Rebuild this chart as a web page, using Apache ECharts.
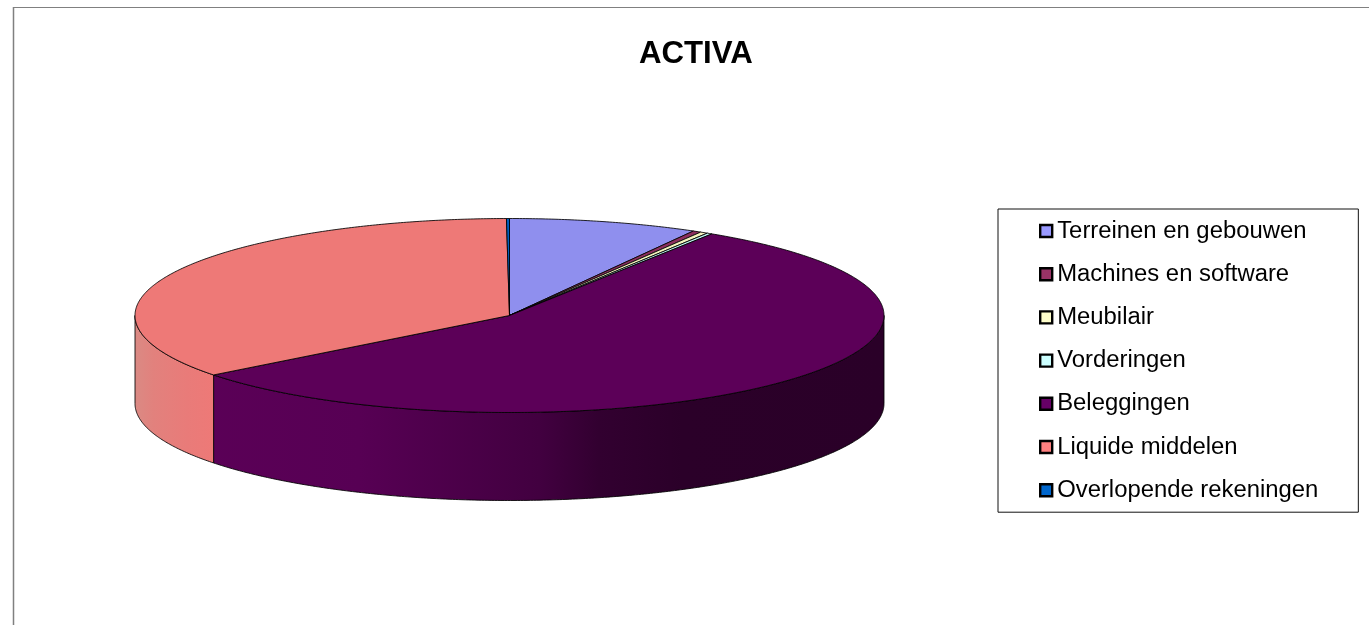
<!DOCTYPE html>
<html><head><meta charset="utf-8">
<style>html,body{margin:0;padding:0;background:#fff}#c{width:1369px;height:625px}</style>
<script src="https://cdn.jsdelivr.net/npm/echarts@6/dist/echarts.min.js"></script>
</head><body><div id="c"></div>
<script>
const categories = ['Terreinen en gebouwen','Machines en software','Meubilair','Vorderingen','Beleggingen','Liquide middelen','Overlopende rekeningen'];
const values = [8.17,0.36,0.33,0.23,55.41,35.37,0.13];
const legendColors = ['#9999ff','#993366','#ffffcc','#ccffff','#660066','#ff8080','#0066cc'];
const topColors = ['#8f8fee','#8c2f5e','#f4f4be','#bdf0f0','#5c0058','#ee7977','#0060c0'];
const wallStops = [
  [[0,'#8f8fee'],[1,'#8f8fee']],
  [[0,'#8c2f5e'],[1,'#8c2f5e']],
  [[0,'#f4f4be'],[1,'#f4f4be']],
  [[0,'#bdf0f0'],[1,'#bdf0f0']],
  [[0,'#5c0058'],[0.3,'#570054'],[0.54,'#420040'],[0.62,'#320030'],[0.73,'#2b0029'],[1,'#2a0028']],
  [[0,'#da8a84'],[0.025,'#e2817d'],[0.07,'#e97b79'],[0.105,'#ee7977'],[1,'#ee7977']],
  [[0,'#0060c0'],[1,'#0060c0']]
];
const CX = 509.5, CY = 315.5, RX = 374.5, RY = 97, DEPTH = 88;
const total = values.reduce((a,b)=>a+b,0);
const pt = (deg,dy=0)=>{const r=deg*Math.PI/180;return [CX+RX*Math.sin(r),CY-RY*Math.cos(r)+dy];};
const arc = (a,b,dy=0)=>{const n=Math.max(2,Math.ceil(Math.abs(b-a)*2));const out=[];for(let i=0;i<=n;i++)out.push(pt(a+(b-a)*i/n,dy));return out;};
const starts = values.map((_,i)=>values.slice(0,i).reduce((a,b)=>a+b,0));
const LINE = {stroke:'#000',lineWidth:0.85,lineJoin:'round'};

function render(i){
  return function(params,api){
    const v = api.value(0);
    const a = starts[i]/total*360, b = a+v/total*360;
    const children = [];
    const wa = Math.max(a,90), wb = Math.min(b,270);
    if (wb>wa){
      const pts = arc(wa,wb).concat(arc(wb,wa,DEPTH));
      children.push({type:'polygon',z2:1,shape:{points:pts},style:Object.assign({},LINE,{
        fill:{type:'linear',x:CX-RX,y:0,x2:CX+RX,y2:0,global:true,
          colorStops:wallStops[i].map(s=>({offset:s[0],color:s[1]}))}
      })});
    }
    const top=[[CX,CY]].concat(arc(a,b));
    children.push({type:'polygon',z2:2,shape:{points:top},style:Object.assign({},LINE,{fill:topColors[i]})});
    return {type:'group',children};
  };
}

const chart = echarts.init(document.getElementById('c'),null,{renderer:'canvas'});
chart.setOption({
  animation:false,
  backgroundColor:'#fff',
  title:{text:'ACTIVA',left:634,top:34,
    textStyle:{fontFamily:'Liberation Sans',fontSize:31.2,fontWeight:'bold',color:'#000'}},
  legend:{orient:'vertical',left:998,top:209,
    padding:[10,40,10,41],itemGap:19.2,itemWidth:12,itemHeight:12,icon:'rect',
    borderColor:'#111',borderWidth:1,backgroundColor:'#fff',selectedMode:false,
    textStyle:{fontFamily:'Liberation Sans',fontSize:23.85,color:'#000',lineHeight:24},
    data:categories.map((name,i)=>({name,icon:'rect',
      itemStyle:{color:legendColors[i],borderColor:'#000',borderWidth:2.4}}))},
  graphic:[
    {type:'line',shape:{x1:13,y1:7.5,x2:1369,y2:7.5},style:{stroke:'#808080',lineWidth:1}},
    {type:'line',shape:{x1:13.5,y1:7,x2:13.5,y2:625},style:{stroke:'#808080',lineWidth:1.5}}
  ],
  series:categories.map((name,i)=>({
    type:'custom',name,coordinateSystem:'none',silent:true,
    itemStyle:{color:legendColors[i]},
    renderItem:render(i),data:[[values[i]]]
  }))
});
</script></body></html>
